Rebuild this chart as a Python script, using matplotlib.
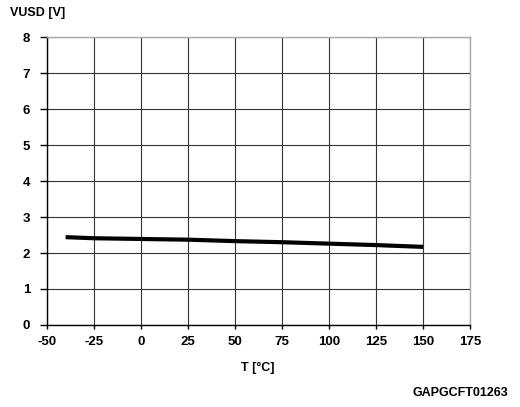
import matplotlib
matplotlib.use("Agg")
import matplotlib.pyplot as plt

temps = [-40, -25, 0, 25, 50, 75, 100, 125, 150]
vusd = [2.44, 2.41, 2.39, 2.37, 2.33, 2.30, 2.26, 2.22, 2.17]
xticks = [-50, -25, 0, 25, 50, 75, 100, 125, 150, 175]
yticks = [0, 1, 2, 3, 4, 5, 6, 7, 8]

plt.rcParams['font.family'] = ['Liberation Sans', 'DejaVu Sans']
plt.rcParams['axes.unicode_minus'] = False
fig = plt.figure(figsize=(5.2, 4.07), dpi=100)
ax = fig.add_axes([0.090, 0.2015, 0.814, 0.7075])
ax.plot(temps, vusd, color='black', lw=3, solid_capstyle='butt')
ax.set_xlim(-50, 175)
ax.set_ylim(0, 8)
ax.set_xticks(xticks)
ax.set_yticks(yticks)
ax.grid(True, color='#333333', lw=0.8)
ax.set_axisbelow(True)
for s in ['top', 'right']:
    ax.spines[s].set_color('#aaaaaa')
    ax.spines[s].set_linewidth(1)
for s in ['left', 'bottom']:
    ax.spines[s].set_color('black')
    ax.spines[s].set_linewidth(1)
ax.tick_params(axis='x', direction='out', length=3, width=1, colors='black',
               labelsize=9.5, pad=5)
ax.tick_params(axis='y', direction='out', length=5, width=1, colors='black',
               labelsize=9.5, pad=7)
for lab in ax.get_xticklabels() + ax.get_yticklabels():
    lab.set_fontweight('bold')
fig.text(10 / 520, 1 - 13 / 407, 'VUSD [V]', fontsize=9, fontweight='bold', va='center', ha='left')
fig.text(258 / 520, 1 - 368 / 407, 'T [°C]', fontsize=9, fontweight='bold', va='center', ha='center')
fig.text(508 / 520, 1 - 393 / 407, 'GAPGCFT01263', fontsize=9, fontweight='bold', va='center', ha='right')
fig.savefig('out.png', dpi=100)
